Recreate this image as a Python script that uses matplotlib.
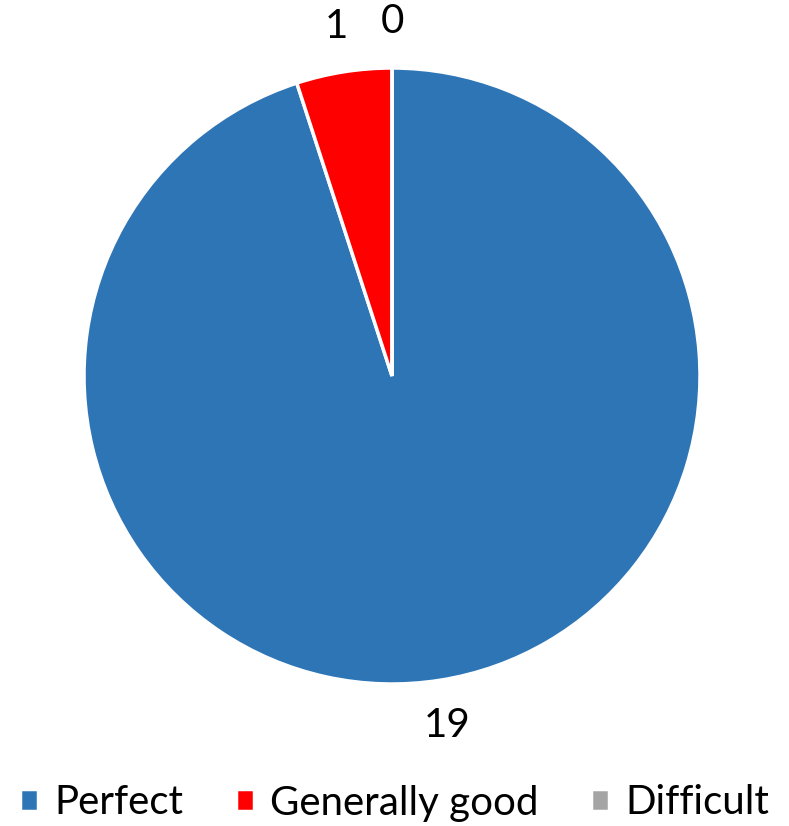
import matplotlib
matplotlib.use("Agg")
import matplotlib.pyplot as plt

categories = ["Perfect", "Generally good", "Difficult"]
counts = [19, 1, 0]
colors = ["#2E75B6", "#FF0000", "#A5A5A5"]

plt.rcParams['font.family'] = ['Lato', 'DejaVu Sans']

fig = plt.figure(figsize=(7.89, 8.26), dpi=100)
# pie centred at (392, 376) px, radius ~308 px
r_px = 308
ax = fig.add_axes([(392 - r_px) / 789, (826 - 376 - r_px) / 826, 2 * r_px / 789, 2 * r_px / 826])

wedges, texts = ax.pie(counts, colors=colors, startangle=90, counterclock=False,
                       labels=[str(c) for c in counts], labeldistance=1.15,
                       wedgeprops=dict(edgecolor="white", linewidth=2.5),
                       textprops=dict(fontsize=29, color="black"))
for t in texts:
    t.set_ha("center")
    t.set_va("center")
ax.set_xlim(-1, 1)
ax.set_ylim(-1, 1)
ax.set_aspect("equal")
ax.axis("off")

fig.legend(wedges, categories, loc="center", bbox_to_anchor=(0.5, 1 - 803 / 826),
           ncol=3, frameon=False, fontsize=29, handlelength=0.45, handleheight=0.45,
           handletextpad=0.4, columnspacing=1.3)

fig.savefig("out.png", dpi=100)
